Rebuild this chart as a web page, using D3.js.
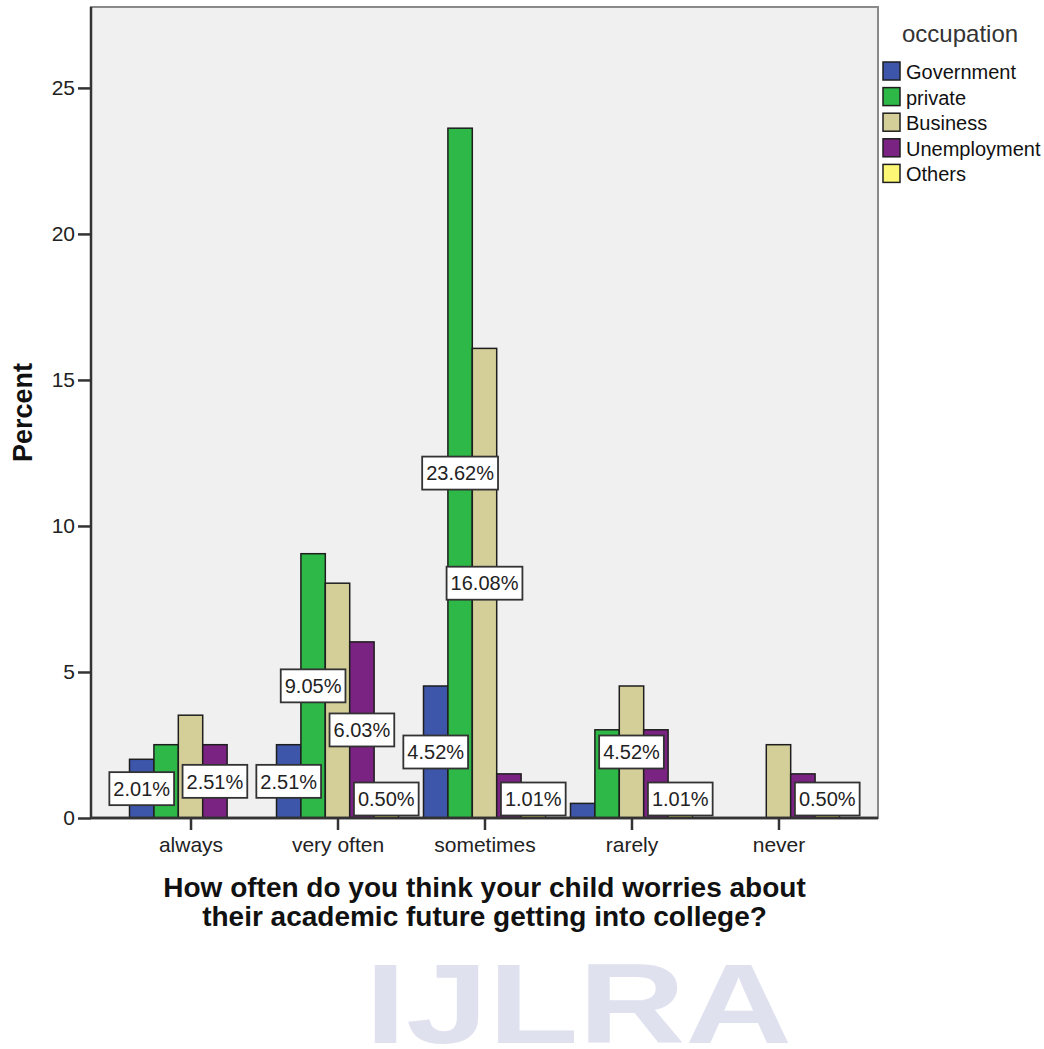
<!DOCTYPE html>
<html>
<head>
<meta charset="utf-8">
<script src="https://cdn.jsdelivr.net/npm/d3@7"></script>
<style>
  html, body { margin: 0; padding: 0; background: #ffffff; }
  svg { display: block; font-family: "Liberation Sans", Arial, sans-serif; }
</style>
</head>
<body>
<svg id="chart" width="1044" height="1049"></svg>
<script>
// ---- data ----
const categories = ["always", "very often", "sometimes", "rarely", "never"];
const occupations = ["Government", "private", "Business", "Unemployment", "Others"];
const government   = [2.01, 2.51, 4.52, 0.50, 0];
const privateJob   = [2.51, 9.05, 23.62, 3.02, 0];
const business     = [3.52, 8.04, 16.08, 4.52, 2.51];
const unemployment = [2.51, 6.03, 1.51, 3.02, 1.51];
const others       = [0, 0.50, 1.01, 1.01, 0.50];
const yTicks = [0, 5, 10, 15, 20, 25];
// bars that carry a value label in the original chart
const labelled = [
  ["always", "Government"], ["always", "Unemployment"],
  ["very often", "Government"], ["very often", "private"], ["very often", "Unemployment"], ["very often", "Others"],
  ["sometimes", "Government"], ["sometimes", "private"], ["sometimes", "Business"], ["sometimes", "Others"],
  ["rarely", "Business"], ["rarely", "Others"],
  ["never", "Others"]
];
const colors = ["#3d56a9", "#2db847", "#d4ce98", "#7b2382", "#fcf875"];
const xTitle = ["How often do you think your child worries about", "their academic future getting into college?"];

const series = [government, privateJob, business, unemployment, others];
const rows = [];
categories.forEach((c, i) => occupations.forEach((o, j) => rows.push({cat: c, occ: o, value: series[j][i]})));

// ---- layout ----
const L = 91, R = 878, T = 7, B = 818;
const svg = d3.select("#chart");

const x0 = d3.scalePoint().domain(categories).range([L, R]).padding(0.677);
const x1 = d3.scaleBand().domain(occupations).range([-61, 61]);
const y = d3.scaleLinear().domain([0, 27.77]).range([B, T]);
const color = d3.scaleOrdinal().domain(occupations).range(colors);

// plot background
svg.append("rect").attr("x", L).attr("y", T).attr("width", R - L).attr("height", B - T)
  .attr("fill", "#f0f0f0").attr("stroke", "#8a8a8a").attr("stroke-width", 2);

// watermark
svg.append("text").attr("x", 365).attr("y", 1043)
  .attr("textLength", 427).attr("lengthAdjust", "spacingAndGlyphs")
  .attr("font-size", 114).attr("font-weight", "bold").attr("fill", "#dfe1ee")
  .text("IJLRA");

// bars
svg.append("g").selectAll("rect").data(rows).join("rect")
  .attr("x", d => x0(d.cat) + x1(d.occ))
  .attr("y", d => y(d.value))
  .attr("width", x1.bandwidth())
  .attr("height", d => y(0) - y(d.value))
  .attr("fill", d => color(d.occ))
  .attr("stroke", "#1e1e1e").attr("stroke-width", 1.5);

// axes
const yAxis = svg.append("g").attr("transform", `translate(${L},0)`)
  .call(d3.axisLeft(y).tickValues(yTicks).tickSize(13).tickSizeOuter(0).tickPadding(3).tickFormat(d3.format("d")));
const xAxis = svg.append("g").attr("transform", `translate(0,${B})`)
  .call(d3.axisBottom(x0).tickSize(12).tickSizeOuter(0).tickPadding(7));
[yAxis, xAxis].forEach(g => {
  g.select(".domain").attr("stroke", "#333").attr("stroke-width", 2.5);
  g.selectAll(".tick line").attr("stroke", "#333").attr("stroke-width", 2.5);
  g.selectAll(".tick text").attr("font-size", 21).attr("fill", "#222")
    .attr("font-family", "Liberation Sans, Arial, sans-serif");
});
yAxis.select(".domain").attr("d", `M0,${B}V${T}`);
xAxis.select(".domain").attr("d", `M${L},0H${R}`);

// value labels
const lab = svg.append("g");
labelled.forEach(([c, o]) => {
  const d = rows.find(r => r.cat === c && r.occ === o);
  const cx = x0(c) + x1(o) + x1.bandwidth() / 2;
  const cy = Math.min(y(d.value / 2), y(0) - 19);
  const g = lab.append("g");
  const t = g.append("text").attr("x", cx).attr("y", cy).attr("dy", "0.36em")
    .attr("text-anchor", "middle").attr("font-size", 20).attr("fill", "#222")
    .text(d.value.toFixed(2) + "%");
  const w = t.node().getComputedTextLength() + 8;
  g.insert("rect", "text").attr("x", cx - w / 2).attr("y", cy - 16.5).attr("width", w).attr("height", 33)
    .attr("fill", "#ffffff").attr("stroke", "#333").attr("stroke-width", 1.8);
});

// redraw baseline above labels
svg.append("line").attr("x1", L).attr("x2", R).attr("y1", B).attr("y2", B)
  .attr("stroke", "#333").attr("stroke-width", 2.5);

// axis titles
svg.append("text").attr("transform", `translate(32,${(T + B) / 2}) rotate(-90)`)
  .attr("text-anchor", "middle").attr("font-size", 27).attr("font-weight", "bold").attr("fill", "#111")
  .text("Percent");
svg.append("text").attr("text-anchor", "middle").attr("font-size", 28).attr("font-weight", "bold").attr("fill", "#111")
  .selectAll("tspan").data(xTitle).join("tspan")
  .attr("x", (L + R) / 2).attr("y", (d, i) => 897 + i * 29).text(d => d);

// legend
const leg = svg.append("g");
leg.append("text").attr("x", 902).attr("y", 42).attr("font-size", 24).attr("fill", "#333").text("occupation");
const items = leg.selectAll("g.item").data(occupations).join("g").attr("class", "item")
  .attr("transform", (d, i) => `translate(883,${62 + i * 25.6})`);
items.append("rect").attr("width", 17).attr("height", 18)
  .attr("fill", d => color(d)).attr("stroke", "#1e1e1e").attr("stroke-width", 1.5);
items.append("text").attr("x", 23).attr("y", 17).attr("font-size", 20).attr("fill", "#111").text(d => d);
</script>
</body>
</html>
